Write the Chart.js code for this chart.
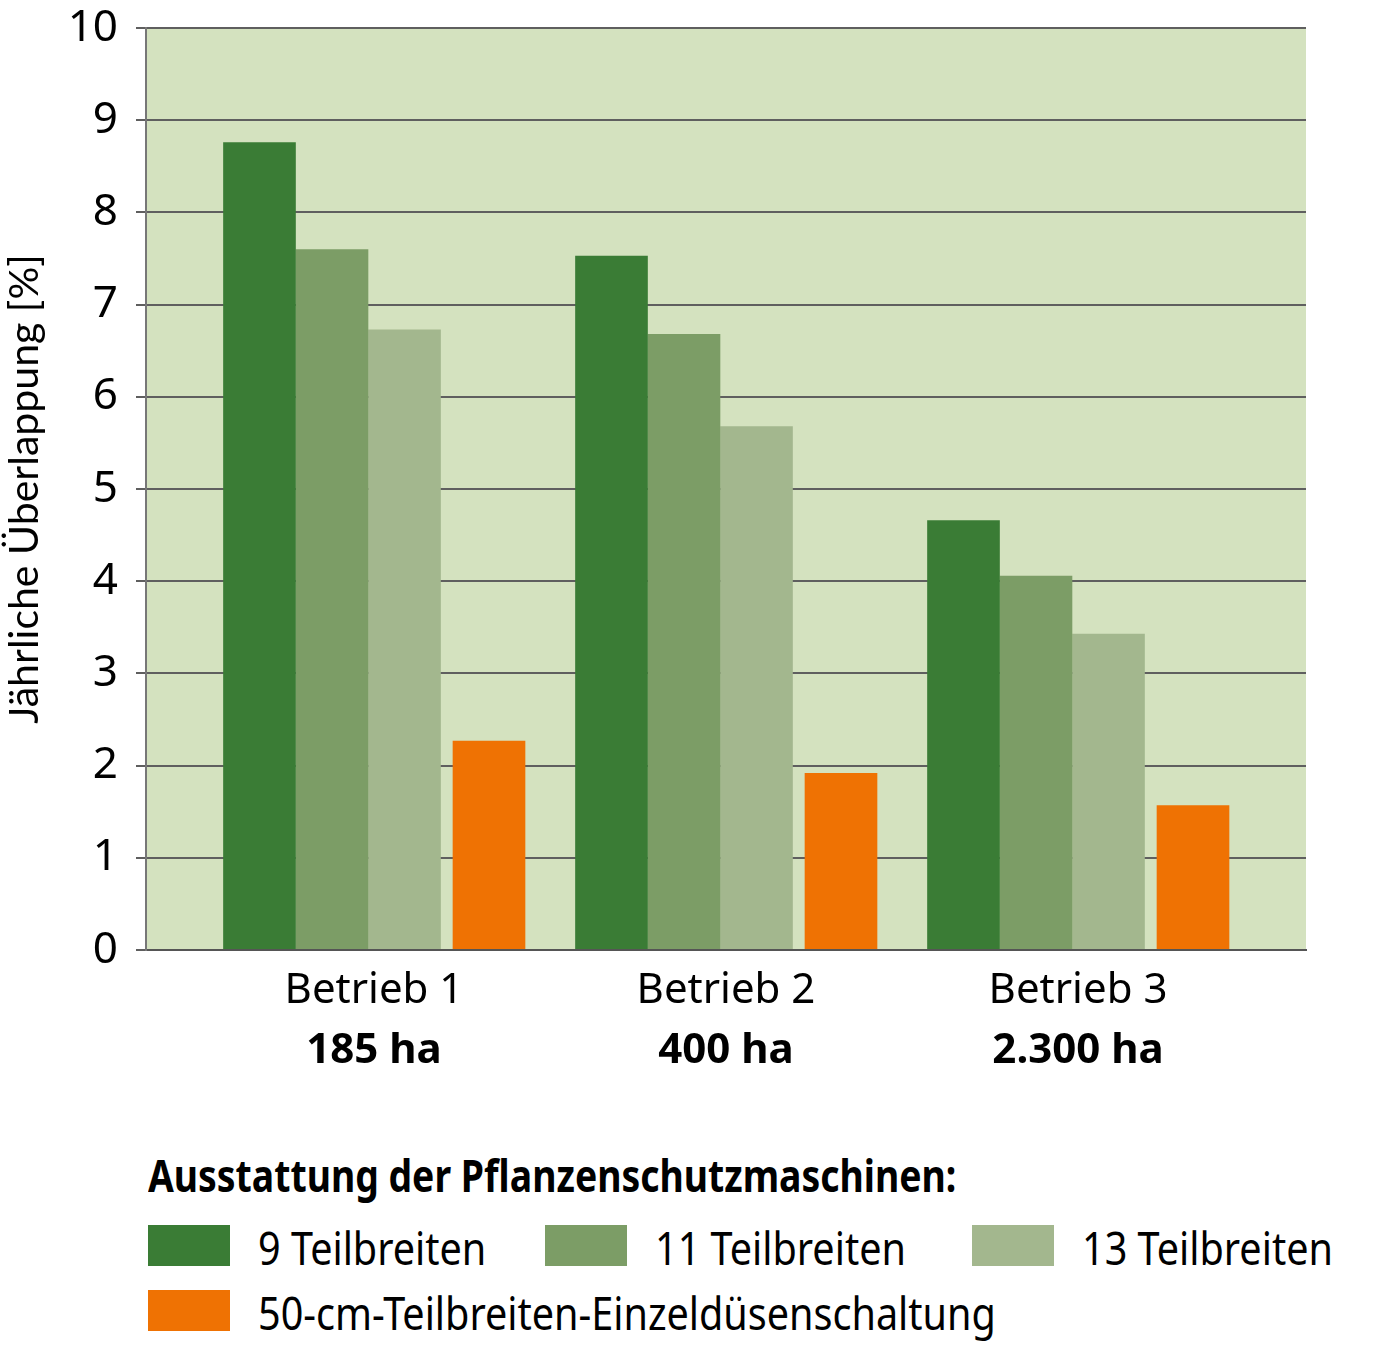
<!DOCTYPE html>
<html lang="de">
<head>
    <meta charset="utf-8" />
    <title>Jährliche Überlappung</title>
    <script src="https://cdn.jsdelivr.net/npm/chart.js"></script>
    <style>
        body { margin: 0; background: #fff; width: 1389px; height: 1347px; position: relative; overflow: hidden; }
        #chart { position: absolute; left: 0; top: 0; }
        .schmal { font-family: 'Noto Sans', 'DejaVu Sans Condensed', sans-serif; }
        #legendTitle { position: absolute; left: 148px; top: 1149px; font-size: 45px; font-weight: bold; line-height: 52px; color: #000; white-space: nowrap; transform: scaleX(0.83); transform-origin: left center; }
        #legend { position: absolute; left: 148px; top: 1225px; display: grid; grid-template-columns: 397px 427px auto; row-gap: 24px; }
        .item { display: flex; align-items: center; height: 41px; }
        .item.lang { grid-column: 1 / -1; }
        .box { width: 82px; height: 41px; margin-right: 28px; flex: none; }
        .txt { font-size: 46px; line-height: 41px; color: #000; white-space: nowrap; position: relative; top: 2px; transform: scaleX(0.86); transform-origin: left center; }
    </style>
</head>
<body>
    <canvas id="chart" width="1389" height="1080"></canvas>
    <div id="legendTitle" class="schmal">Ausstattung der Pflanzenschutzmaschinen:</div>
    <div id="legend" class="schmal"></div>

    <script>
        // Daten
        const betriebe = ['Betrieb 1', 'Betrieb 2', 'Betrieb 3'];
        const flaechen = ['185 ha', '400 ha', '2.300 ha'];
        const teilbreiten9 = [8.76, 7.53, 4.66];
        const teilbreiten11 = [7.60, 6.68, 4.06];
        const teilbreiten13 = [6.73, 5.68, 3.43];
        const einzelduesen = [2.27, 1.92, 1.57];

        const FAMILIE = "'Noto Sans', 'DejaVu Sans Condensed', sans-serif";

        // jeder Betrieb liegt bei x = 1, 2, 3
        const punkte = werte => werte.map((v, i) => ({ x: i + 1, y: v }));
        const festeTicks = scale => { scale.ticks = betriebe.map((b, i) => ({ value: i + 1 })); };

        // Hintergrund der Zeichenfläche
        const hintergrund = {
            id: 'hintergrund',
            beforeDraw(chart) {
                const { ctx, chartArea: a } = chart;
                ctx.save();
                ctx.fillStyle = '#d4e2bf';
                ctx.fillRect(a.left, a.top, a.right - a.left, a.bottom - a.top);
                ctx.restore();
            }
        };

        // eigene Legende als HTML
        const htmlLegende = {
            id: 'htmlLegende',
            afterUpdate(chart) {
                const el = document.getElementById('legend');
                el.innerHTML = '';
                chart.data.datasets.forEach((ds, i) => {
                    const item = document.createElement('span');
                    item.className = i === 3 ? 'item lang' : 'item';
                    item.innerHTML = `<span class="box" style="background:${ds.backgroundColor}"></span><span class="txt">${ds.label}</span>`;
                    el.appendChild(item);
                });
            }
        };

        // unsichtbare x-Achsen, je Datenreihe leicht verschoben
        const xVersteckt = (min, max) => ({
            type: 'linear', display: false, offset: false, min, max,
            afterBuildTicks: festeTicks
        });

        const balken = (label, werte, farbe, achse) => ({
            label, data: punkte(werte), backgroundColor: farbe, xAxisID: achse,
            grouped: false, categoryPercentage: 0.2064, barPercentage: 1, borderWidth: 0
        });

        new Chart(document.getElementById('chart'), {
            type: 'bar',
            data: {
                datasets: [
                    balken('9 Teilbreiten', teilbreiten9, '#3a7c35', 'x9'),
                    balken('11 Teilbreiten', teilbreiten11, '#7c9d66', 'x11'),
                    balken('13 Teilbreiten', teilbreiten13, '#a3b78e', 'x13'),
                    balken('50-cm-Teilbreiten-Einzeldüsenschaltung', einzelduesen, '#ef7203', 'x50')
                ]
            },
            options: {
                responsive: false,
                animation: false,
                devicePixelRatio: 1,
                layout: { padding: { left: 0, right: 83, top: 28, bottom: 0 } },
                plugins: { legend: { display: false }, tooltip: { enabled: false } },
                scales: {
                    x9: xVersteckt(0.6776, 3.9730),
                    x11: xVersteckt(0.4716, 3.7671),
                    x13: xVersteckt(0.2656, 3.5611),
                    x50: xVersteckt(0.0256, 3.3210),
                    xt: {
                        type: 'linear', position: 'bottom', weight: 0, offset: false,
                        min: 0.3523, max: 3.6477,
                        afterBuildTicks: festeTicks,
                        afterFit: s => { s.height = 70; },
                        grid: { display: false, drawTicks: false },
                        border: { display: true, color: '#555', width: 2 },
                        ticks: {
                            padding: 16, color: '#000', maxRotation: 0, autoSkip: false,
                            font: { family: FAMILIE, size: 42 },
                            callback: v => betriebe[v - 1]
                        }
                    },
                    xb: {
                        type: 'linear', position: 'bottom', weight: 1, offset: false,
                        min: 0.3523, max: 3.6477,
                        afterBuildTicks: festeTicks,
                        afterFit: s => { s.height = 60; },
                        grid: { display: false, drawTicks: false },
                        border: { display: false },
                        ticks: {
                            padding: 6, color: '#000', maxRotation: 0, autoSkip: false,
                            font: { family: FAMILIE, size: 42, weight: 'bold' },
                            callback: v => flaechen[v - 1]
                        }
                    },
                    y: {
                        min: 0, max: 10,
                        afterFit: s => { s.width = 146; s.paddingTop = 0; s.paddingBottom = 0; },
                        ticks: { stepSize: 1, padding: 18, color: '#000', font: { family: FAMILIE, size: 44 } },
                        grid: { color: '#5f5f5f', lineWidth: 2, tickLength: 10, drawTicks: true },
                        border: { display: true, color: '#777', width: 2 },
                        title: {
                            display: true, text: 'Jährliche Überlappung [%]', color: '#000',
                            font: { family: 'Lato, sans-serif', size: 41 }, padding: { top: 0, bottom: 0 }
                        }
                    }
                }
            },
            plugins: [hintergrund, htmlLegende]
        });
    </script>
</body>
</html>
